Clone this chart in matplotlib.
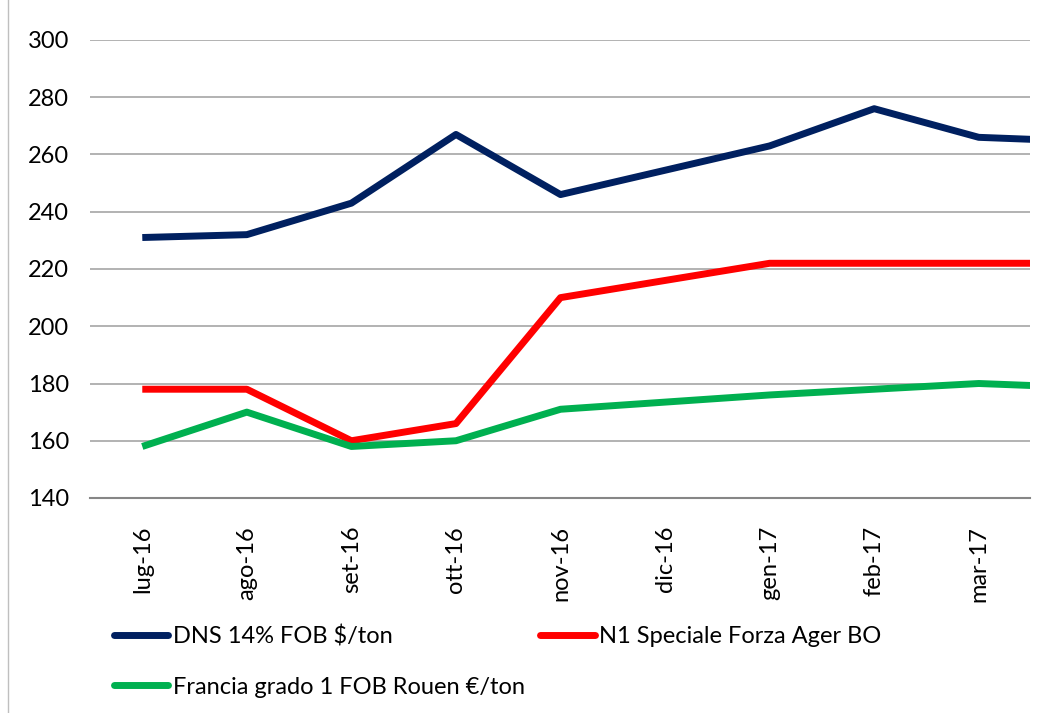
import matplotlib
matplotlib.use("Agg")
import matplotlib.pyplot as plt
from matplotlib.lines import Line2D

months = ["lug-16", "ago-16", "set-16", "ott-16", "nov-16", "dic-16",
          "gen-17", "feb-17", "mar-17", "apr-17"]
dns = [231, 232, 243, 267, 246, 254.5, 263, 276, 266, 264.6]
n1 = [178, 178, 160, 166, 210, 216, 222, 222, 222, 222]
francia = [158, 170, 158, 160, 171, 173.5, 176, 178, 180, 178.6]
yticks = [140, 160, 180, 200, 220, 240, 260, 280, 300]

labels = ["DNS 14% FOB $/ton", "N1 Speciale Forza Ager BO",
          "Francia grado 1 FOB Rouen €/ton"]
colors = ["#002060", "#ff0000", "#00b050"]

plt.rcParams['font.family'] = ['Lato', 'DejaVu Sans']

fig = plt.figure(figsize=(10.46, 7.13), dpi=100)
ax = fig.add_axes([90/1046, 1-498/713, (1030-90)/1046, (498-40)/713])

x = list(range(len(months)))
l1, = ax.plot(x, dns, color=colors[0], lw=5, solid_capstyle='butt')
l2, = ax.plot(x, n1, color=colors[1], lw=5, solid_capstyle='butt')
l3, = ax.plot(x, francia, color=colors[2], lw=5, solid_capstyle='butt')

ax.set_xlim(-0.5, 8.49)
ax.set_ylim(140, 300)
ax.set_yticks(yticks)
ax.set_yticklabels([str(v) for v in yticks], fontsize=17)
ax.set_xticks(x[:9])
ax.set_xticklabels(months[:9], rotation=90, fontsize=17, va='top', ha='center')
ax.tick_params(axis='both', length=0)
ax.tick_params(axis='y', pad=15)
ax.tick_params(axis='x', pad=20)
ax.grid(axis='y', color='#a6a6a6', lw=1.2)
ax.set_axisbelow(True)
for s in ['left', 'right', 'top']:
    ax.spines[s].set_visible(False)
ax.spines['bottom'].set_color('#868686')
ax.spines['bottom'].set_linewidth(1.5)

leg = fig.legend([l1, l3, l2], [labels[0], labels[2], labels[1]], ncol=2,
                 loc='upper left', bbox_to_anchor=(114/1046, 1-625/713),
                 frameon=False, borderpad=0, borderaxespad=0,
                 handlelength=2.3, handletextpad=0.2,
                 columnspacing=0.65, labelspacing=1.25,
                 prop={'size': 17})
for h in leg.get_lines():
    h.set_linewidth(5)
    h.set_solid_capstyle('round')

fig.add_artist(Line2D([8/1046, 8/1046], [0, 1], color='#bfbfbf', lw=1,
                      transform=fig.transFigure))

fig.savefig("out.png", dpi=100)
